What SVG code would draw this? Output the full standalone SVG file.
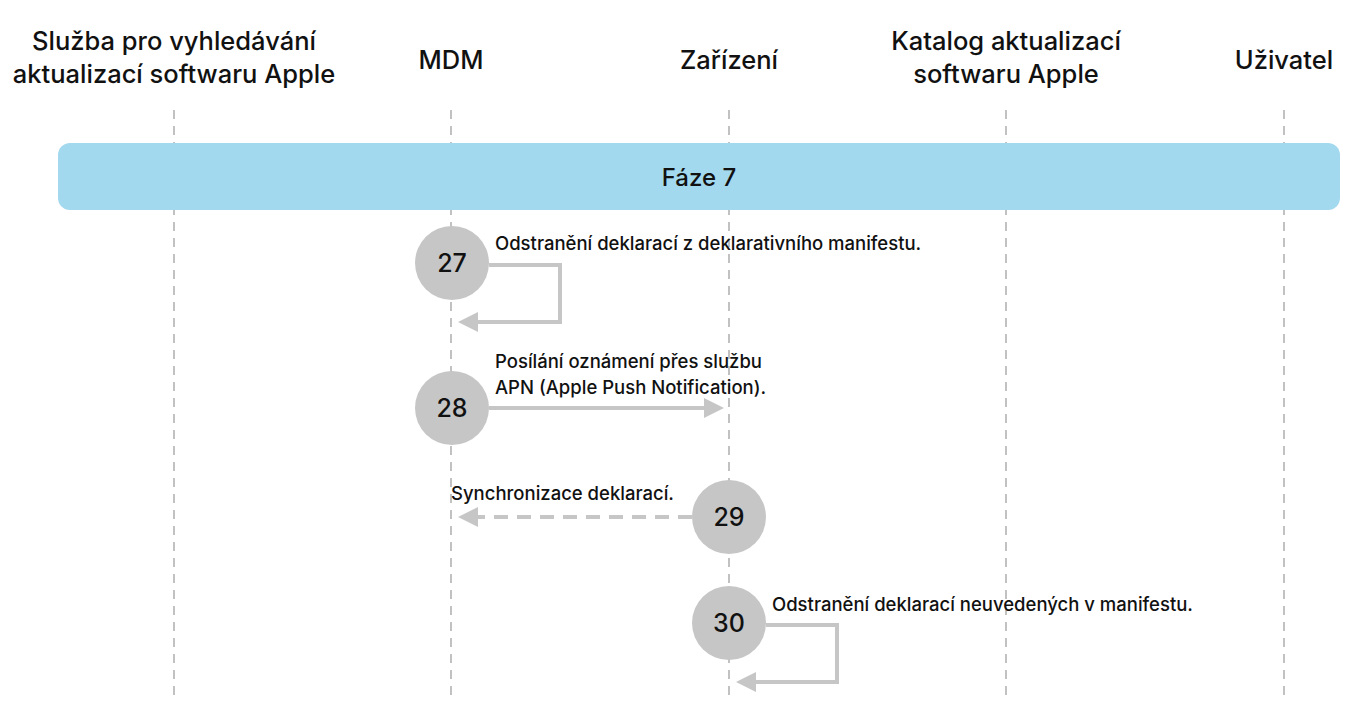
<svg xmlns="http://www.w3.org/2000/svg" width="1349" height="705" viewBox="0 0 1349 705">
<style>
.h{font-family:Inter,"Liberation Sans",sans-serif;font-size:25.5px;font-weight:500;fill:#111;text-anchor:middle}
.l{font-family:Inter,"Liberation Sans",sans-serif;font-size:18.5px;font-weight:500;fill:#111}
.n{font-family:Inter,"Liberation Sans",sans-serif;font-size:25px;font-weight:500;fill:#111;text-anchor:middle}
.life{stroke:#999;stroke-width:1.2;stroke-dasharray:9 7}
.c{fill:#c6c6c6}
.a{fill:none;stroke:#c6c6c6;stroke-width:4}
</style>
<defs><marker id="ah" viewBox="0 0 10 10" refX="8" refY="5" markerWidth="5" markerHeight="5" orient="auto"><path d="M0,0 L10,5 L0,10 z" fill="#c6c6c6"/></marker></defs>
<rect width="1349" height="705" fill="#fff"/>
<g id="headers">
<text class="h" x="174" y="50">Služba pro vyhledávání</text><text class="h" x="174" y="83">aktualizací softwaru Apple</text>
<text class="h" x="451" y="69">MDM</text>
<text class="h" x="729" y="69">Zařízení</text>
<text class="h" x="1006" y="50">Katalog aktualizací</text><text class="h" x="1006" y="83">softwaru Apple</text>
<text class="h" x="1284" y="69">Uživatel</text>
</g>
<g id="lifelines">
<line class="life" x1="174" y1="110" x2="174" y2="700"/><line class="life" x1="451" y1="110" x2="451" y2="700"/><line class="life" x1="729" y1="110" x2="729" y2="700"/><line class="life" x1="1006" y1="110" x2="1006" y2="700"/><line class="life" x1="1284" y1="110" x2="1284" y2="700"/>
</g>
<g id="phase"><rect x="58" y="143" width="1282" height="67" rx="12" fill="#a3d9ee"/><text class="h" x="699" y="186" style="font-size:24px">Fáze 7</text></g>
<g id="connectors">
<path class="a" d="M489,265 H560 V322 H462" marker-end="url(#ah)"/>
<path class="a" d="M489,408 H720" marker-end="url(#ah)"/>
<path class="a" d="M692,517 H462" stroke-dasharray="14 9" marker-end="url(#ah)"/>
<path class="a" d="M766,625 H837 V682 H740" marker-end="url(#ah)"/>
</g>
<g id="s27"><circle class="c" cx="452" cy="263" r="37"/><text class="n" x="452" y="272">27</text><text class="l" x="495" y="250">Odstranění deklarací z deklarativního manifestu.</text></g>
<g id="s28"><circle class="c" cx="452" cy="408" r="37"/><text class="n" x="452" y="417">28</text><text class="l" x="495" y="368">Posílání oznámení přes službu</text><text class="l" x="495" y="394">APN (Apple Push Notification).</text></g>
<g id="s29"><circle class="c" cx="729" cy="517" r="37"/><text class="n" x="729" y="526">29</text><text class="l" x="451" y="500">Synchronizace deklarací.</text></g>
<g id="s30"><circle class="c" cx="729" cy="623" r="37"/><text class="n" x="729" y="632">30</text><text class="l" x="772" y="611">Odstranění deklarací neuvedených v manifestu.</text></g>
</svg>
